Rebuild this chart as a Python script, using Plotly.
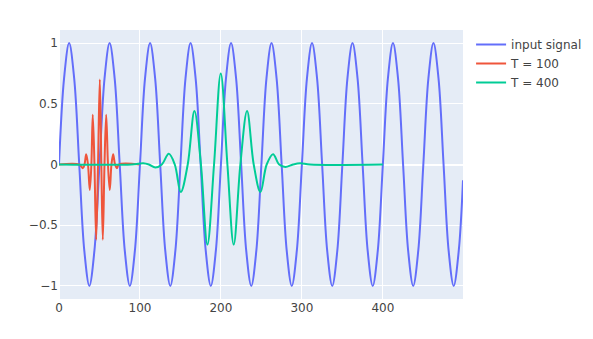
import plotly.graph_objects as go

# input signal (read at 1/8-period steps)
sig_x = [0, 6.25, 12.5, 18.75, 25, 31.25, 37.5, 43.75,
         50, 56.25, 62.5, 68.75, 75, 81.25, 87.5, 93.75,
         100, 106.25, 112.5, 118.75, 125, 131.25, 137.5, 143.75,
         150, 156.25, 162.5, 168.75, 175, 181.25, 187.5, 193.75,
         200, 206.25, 212.5, 218.75, 225, 231.25, 237.5, 243.75,
         250, 256.25, 262.5, 268.75, 275, 281.25, 287.5, 293.75,
         300, 306.25, 312.5, 318.75, 325, 331.25, 337.5, 343.75,
         350, 356.25, 362.5, 368.75, 375, 381.25, 387.5, 393.75,
         400, 406.25, 412.5, 418.75, 425, 431.25, 437.5, 443.75,
         450, 456.25, 462.5, 468.75, 475, 481.25, 487.5, 493.75,
         499]
sig_y = [0, 0.71, 1, 0.71, 0, -0.71, -1, -0.71,
         0, 0.71, 1, 0.71, 0, -0.71, -1, -0.71,
         0, 0.71, 1, 0.71, 0, -0.71, -1, -0.71,
         0, 0.71, 1, 0.71, 0, -0.71, -1, -0.71,
         0, 0.71, 1, 0.71, 0, -0.71, -1, -0.71,
         0, 0.71, 1, 0.71, 0, -0.71, -1, -0.71,
         0, 0.71, 1, 0.71, 0, -0.71, -1, -0.71,
         0, 0.71, 1, 0.71, 0, -0.71, -1, -0.71,
         0, 0.71, 1, 0.71, 0, -0.71, -1, -0.71,
         0, 0.71, 1, 0.71, 0, -0.71, -1, -0.71,
         -0.13]

# T = 100 response
t100_x = [0, 25, 29.5, 31.5, 33.6, 35.8, 38, 40, 41.7, 43.8, 45.9, 48.2,
          50.4, 52.3, 54.1, 56.2, 58.3, 60.5, 62.7, 64.8, 66.9, 69.2, 71.5, 74, 99]
t100_y = [0, 0, -0.03, 0, 0.085, 0, -0.21, 0, 0.41, 0, -0.62, 0,
          0.70, 0, -0.62, 0, 0.41, 0, -0.21, 0, 0.085, 0, -0.03, 0, 0]

# T = 400 response
t400_x = [0, 90, 104, 111, 119, 127, 135.6, 143, 150.4, 159, 167.3, 175.3,
          183.3, 191.5, 199.8, 208, 215.8, 224, 232.3, 240.5, 248.8, 256.5,
          264.4, 272, 279.6, 289, 298, 310, 400]
t400_y = [0, 0, 0.01, 0, -0.025, 0, 0.088, 0, -0.227, 0, 0.44, 0,
          -0.66, 0, 0.75, 0, -0.66, 0, 0.44, 0, -0.227, 0,
          0.085, 0, -0.02, 0, 0.01, 0, 0]

names = ["input signal", "T = 100", "T = 400"]

fig = go.Figure()
fig.add_trace(go.Scatter(x=sig_x, y=sig_y, mode="lines", name=names[0],
                         line=dict(shape="spline")))
fig.add_trace(go.Scatter(x=t100_x, y=t100_y, mode="lines", name=names[1],
                         line=dict(shape="spline")))
fig.add_trace(go.Scatter(x=t400_x, y=t400_y, mode="lines", name=names[2],
                         line=dict(shape="spline")))

fig.update_layout(
    template="plotly",
    width=593, height=339,
    font=dict(family="DejaVu Sans", size=12, color="#444"),
    margin=dict(l=59, r=130, t=30, b=40, autoexpand=False),
    xaxis=dict(range=[0, 499]),
    yaxis=dict(range=[-1.108, 1.108]),
)

fig.write_html("out.html")
